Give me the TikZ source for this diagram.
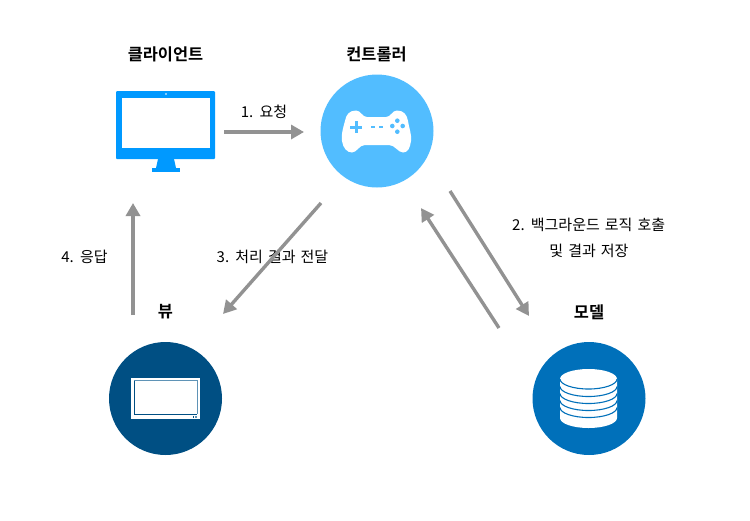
\documentclass[tikz,border=0pt]{standalone}
\usepackage{fontspec}
\setmainfont[WordSpace=1.5]{Noto Sans CJK KR}
\newfontfamily\krbold{Noto Sans CJK KR Bold}
\usetikzlibrary{arrows.meta}
\definecolor{ctlblue}{HTML}{52BDFF}
\definecolor{monblue}{HTML}{0099FF}
\definecolor{viewblue}{HTML}{004F83}
\definecolor{viewlight}{HTML}{5F93B6}
\definecolor{modelblue}{HTML}{0070BA}
\definecolor{arrowgray}{HTML}{929292}
\tikzset{
  flow/.style={draw=arrowgray,line width=3.4pt,-{Triangle[length=13pt,width=14pt]}},
  title/.style={font=\fontsize{16.4}{18}\krbold,text=black,inner sep=0pt},
  lab/.style={font=\fontsize{15}{18}\selectfont,text=black,inner sep=0pt},
  disc/.style={circle,minimum size=113pt,inner sep=0pt}
}
\begin{document}
\begin{tikzpicture}[x=1pt,y=-1pt]
\useasboundingbox (0,0) rectangle (750,520);
% nodes
\node[disc,fill=ctlblue] (ctl) at (377,131) {};
\node[disc,fill=viewblue] (view) at (165.5,398.5) {};
\node[disc,fill=modelblue] (model) at (589,398.5) {};
\node[title] (t1) at (165.5,54) {클라이언트};
\node[title] (t2) at (376.5,54) {컨트롤러};
\node[title] (t3) at (165.5,312) {뷰};
\node[title] (t4) at (589,312) {모델};
\node[lab] (l1) at (264,112) {1. 요청};
\node[lab] (l2) at (588.7,225) {2. 백그라운드 로직 호출};
\node[lab] (l2b) at (589,251) {및 결과 저장};
\node[lab] (l3) at (272.5,257) {3. 처리 결과 전달};
\node[lab] (l4) at (84.5,257) {4. 응답};
% monitor
\fill[monblue,rounded corners=1pt] (116,91) rectangle (215,159);
\fill[white] (122,98) rectangle (210,148);
\fill[white] (166,94) circle (0.9);
\fill[monblue] (158,159) -- (174,159) -- (176,168) -- (156,168) -- cycle;
\fill[monblue] (152,167.5) rectangle (180,171.5);
% controller
\fill[white] (356,110.5) .. controls (349,110.5) and (346,115) .. (345,121)
  .. controls (343,128) and (341,135) .. (342,141)
  .. controls (343,148) and (347,152.5) .. (352,152.5)
  .. controls (357,152.5) and (359,145) .. (365,145)
  -- (389,145)
  .. controls (395,145) and (398,152.5) .. (403,152.5)
  .. controls (408,152.5) and (410,148) .. (411,141)
  .. controls (412,135) and (409,128) .. (408,121)
  .. controls (407,115) and (404,110.5) .. (397,110.5)
  .. controls (392,110.5) and (391,117) .. (386,117)
  -- (367,117)
  .. controls (362,117) and (361,110.5) .. (356,110.5) -- cycle;
\fill[ctlblue] (354.8,121) rectangle (357.8,133);
\fill[ctlblue] (350.3,125.5) rectangle (362.3,128.5);
\fill[ctlblue] (371,126.2) rectangle (374.8,128);
\fill[ctlblue] (379,126.2) rectangle (383,128);
\foreach \p in {(397.3,120.7),(392.3,126),(402.7,126),(397.3,131.7)} \fill[ctlblue] \p circle (2.3);
% tablet
\fill[white] (131,378) rectangle (200,419.3);
\draw[viewlight,line width=1pt] (134.3,380.7) -- (197,380.7) -- (197,414);
\draw[viewblue,line width=1pt] (134.3,380.7) -- (134.3,414) -- (197,414);
\fill[viewblue] (193.2,416.3) rectangle (194.4,417.7);
\fill[viewlight] (195.2,416.3) rectangle (197,417.7);
% database
\fill[white] (560,379) -- (560,418) arc[start angle=180,end angle=0,x radius=28.5,y radius=10]
  -- (617,379) -- cycle;
\fill[white] (588.5,379) ellipse[x radius=28.5,y radius=10];
\foreach \yy in {379,386.5,393.5,400.5,407.5}
  \draw[modelblue,line width=1.1pt] (560,\yy) arc[start angle=180,end angle=0,x radius=28.5,y radius=10];
% connector anchors
\coordinate (a1s) at (224,132); \coordinate (a1e) at (304,132);
\coordinate (a2s) at (450,191); \coordinate (a2e) at (529,316);
\coordinate (a3s) at (321,203); \coordinate (a3e) at (223,314);
\coordinate (a4s) at (133,315); \coordinate (a4e) at (133,203);
\coordinate (a5s) at (499,328); \coordinate (a5e) at (421,208);
\draw[flow] (a1s) -- (a1e);
\draw[flow] (a2s) -- (a2e);
\draw[flow] (a3s) -- (a3e);
\draw[flow] (a4s) -- (a4e);
\draw[flow] (a5s) -- (a5e);
\end{tikzpicture}
\end{document}
